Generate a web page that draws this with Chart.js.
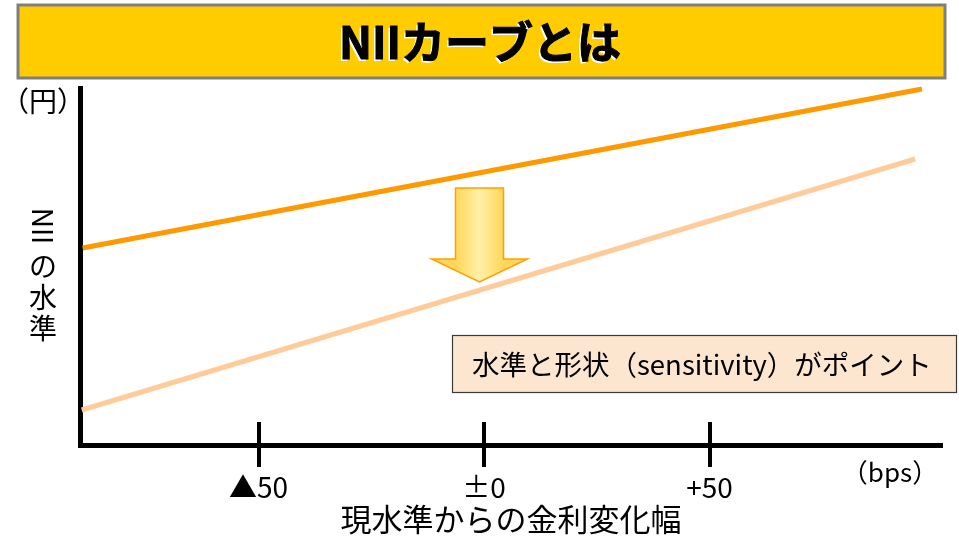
<!DOCTYPE html>
<html><head><meta charset="utf-8">
<script src="https://cdn.jsdelivr.net/npm/chart.js@4/dist/chart.umd.min.js"></script>
<style>html,body{margin:0;padding:0;background:#fff;overflow:hidden}#wrap{width:959px;height:539px;position:relative}</style>
</head><body><div id="wrap"><canvas id="c" width="959" height="539"></canvas></div>
<script>
// ---- data ----
const titleText = 'NIIカーブとは';
const yUnitLabel = '（円）';
const yAxisTitleLatin = 'NII';
const yAxisTitleJa = ['の', '水', '準'];
const xAxisTitle = '現水準からの金利変化幅';
const xUnitLabel = '（bps）';
const calloutText = '水準と形状（sensitivity）がポイント';
const tickValues = [-50, 0, 50];
const tickLabels = ['▲50', '±0', '+50'];
const currentX = [-89.0, 97.1];
const currentY = [197, 356];
const shiftedX = [-89.2, 95.6];
const shiftedY = [35, 286];
const arrowX = -1;
const arrowTopY = 257;
const arrowHeadY = 186;
const arrowTipY = 163;

const FONT = "'Noto Sans CJK JP', 'Noto Sans', sans-serif";

const decor = {
  id: 'decor',
  beforeDraw(chart) {
    const ctx = chart.ctx;
    ctx.save();
    // title bar
    ctx.fillStyle = '#FFCC00';
    ctx.fillRect(18, 5, 927, 73);
    ctx.strokeStyle = '#7F7F7F';
    ctx.lineWidth = 3;
    ctx.strokeRect(18, 5, 927, 73);
    ctx.font = "bold 44px " + FONT;
    ctx.textAlign = 'center';
    ctx.textBaseline = 'middle';
    ctx.fillStyle = '#FFFFFF';
    ctx.fillText(titleText, 478, 44);
    ctx.fillStyle = '#000000';
    ctx.fillText(titleText, 480, 42);
    ctx.lineWidth = 1;
    ctx.strokeStyle = '#000000';
    ctx.strokeText(titleText, 480, 42);
    ctx.restore();
  },
  afterDraw(chart) {
    const ctx = chart.ctx;
    const xs = chart.scales.x, ys = chart.scales.y;
    const bottom = chart.chartArea.bottom;
    ctx.save();
    // tick marks crossing the axis
    ctx.strokeStyle = '#000';
    ctx.lineWidth = 4;
    tickValues.forEach(v => {
      const px = Math.round(xs.getPixelForValue(v));
      ctx.beginPath();
      ctx.moveTo(px, bottom - 23);
      ctx.lineTo(px, bottom + 22);
      ctx.stroke();
    });
    // unit labels
    ctx.fillStyle = '#000';
    ctx.textBaseline = 'middle';
    ctx.textAlign = 'center';
    ctx.font = "28px " + FONT;
    ctx.fillText(yUnitLabel, 43, 101);
    ctx.font = "26px " + FONT;
    ctx.fillText(xUnitLabel, 890, 472);
    // vertical y title
    ctx.font = "28px " + FONT;
    ctx.save();
    ctx.translate(43, 226);
    ctx.rotate(Math.PI / 2);
    ctx.fillText(yAxisTitleLatin, 0, 0);
    ctx.restore();
    yAxisTitleJa.forEach((ch, i) => ctx.fillText(ch, 43, 266 + i * 31));
    // arrow
    const ax = xs.getPixelForValue(arrowX);
    const aTop = ys.getPixelForValue(arrowTopY);
    const aHead = ys.getPixelForValue(arrowHeadY);
    const aTip = ys.getPixelForValue(arrowTipY);
    const g = ctx.createLinearGradient(ax - 24, 0, ax + 24, 0);
    g.addColorStop(0, '#FFD65A');
    g.addColorStop(0.5, '#FFF0A8');
    g.addColorStop(1, '#FFD65A');
    ctx.beginPath();
    ctx.moveTo(ax - 24, aTop);
    ctx.lineTo(ax + 24, aTop);
    ctx.lineTo(ax + 24, aHead);
    ctx.lineTo(ax + 48, aHead);
    ctx.lineTo(ax, aTip);
    ctx.lineTo(ax - 48, aHead);
    ctx.lineTo(ax - 24, aHead);
    ctx.closePath();
    ctx.fillStyle = g;
    ctx.fill();
    ctx.strokeStyle = '#FFA000';
    ctx.lineWidth = 1.5;
    ctx.stroke();
    // callout box
    ctx.fillStyle = '#FDE6D0';
    ctx.fillRect(452, 335, 505, 58);
    ctx.strokeStyle = '#3A3A3A';
    ctx.lineWidth = 1.2;
    ctx.strokeRect(452.5, 335.5, 504, 57);
    ctx.fillStyle = '#000';
    ctx.textAlign = 'left';
    ctx.font = "27.5px " + FONT;
    ctx.fillText(calloutText, 472, 365);
    ctx.restore();
  }
};

new Chart(document.getElementById('c'), {
  type: 'line',
  data: {
    datasets: [
      { data: currentX.map((x, i) => ({ x, y: currentY[i] })), borderColor: '#FF9900', borderWidth: 5, pointRadius: 0, clip: false, borderCapStyle: 'butt' },
      { data: shiftedX.map((x, i) => ({ x, y: shiftedY[i] })), borderColor: '#FFCC99', borderWidth: 5, pointRadius: 0, clip: false, borderCapStyle: 'butt' }
    ]
  },
  options: {
    responsive: false,
    animation: false,
    events: [],
    layout: { padding: { left: 80, right: 17, top: 88, bottom: 4 } },
    plugins: { legend: { display: false }, tooltip: { enabled: false } },
    scales: {
      x: {
        type: 'linear', min: -89.58, max: 101.55,
        afterBuildTicks: s => { s.ticks = tickValues.map(v => ({ value: v })); },
        ticks: { callback: (v, i) => tickLabels[i], color: '#000', padding: 28, maxRotation: 0, autoSkip: false, font: { family: FONT, size: 28, lineHeight: 1 } },
        grid: { display: false, drawTicks: false },
        border: { display: true, color: '#000', width: 5 },
        title: { display: true, text: xAxisTitle, color: '#000', font: { family: FONT, size: 31, lineHeight: 1 }, padding: { top: -25, bottom: 0 } }
      },
      y: {
        type: 'linear', min: 0, max: 357,
        ticks: { display: false },
        grid: { display: false, drawTicks: false },
        border: { display: true, color: '#000', width: 5 }
      }
    }
  },
  plugins: [decor]
});
</script>
</body></html>
